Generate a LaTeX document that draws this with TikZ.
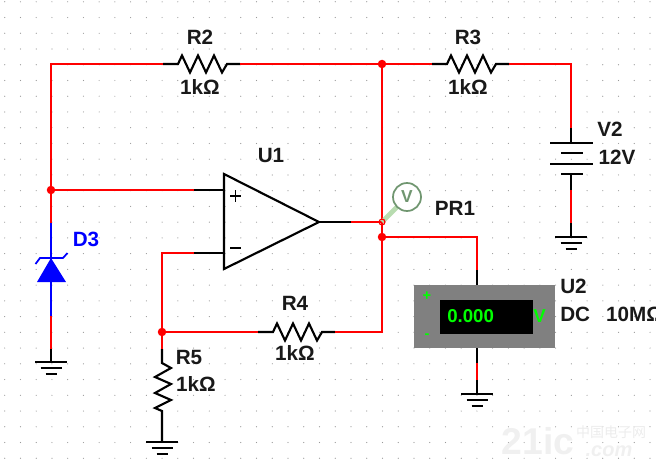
\documentclass[tikz,border=0pt]{standalone}
\usepackage{fontspec}
\setmainfont{Liberation Sans}
\newfontfamily\cjkfont{Noto Sans CJK SC}
\usepackage{xcolor}
\usetikzlibrary{positioning, calc}
\definecolor{wirered}{RGB}{255,0,0}
\definecolor{diodeblue}{RGB}{0,0,255}
\definecolor{metergray}{RGB}{128,128,128}
\definecolor{metergreen}{RGB}{0,255,0}
\definecolor{probegreen}{RGB}{112,150,112}
\definecolor{probestem}{RGB}{184,220,176}
\tikzset{
	wire/.style={draw=wirered, line width=1.6pt},
	lead/.style={draw=black, line width=1.6pt},
	gnd/.style={draw=black, line width=1.5pt},
	dot/.style={circle, fill=wirered, inner sep=0pt, minimum size=8.5pt*0.75},
	label/.style={font=\fontsize{15.5}{17}\selectfont\bfseries, text=black!90, inner sep=0pt},
	meter/.style={font=\fontsize{14}{15}\selectfont\bfseries, text=metergreen, inner sep=0pt},
}
\begin{document}
\begin{tikzpicture}[
	x=0.75pt, y=-0.75pt,
	]
	
	% --- Canvas ---
	\path[use as bounding box] (0,0) rectangle (656,467);
	\clip (0,0) rectangle (656,467);
	
	% --- Dot Grid ---
	\foreach \i in {0,...,41} {
		\foreach \j in {0,...,29} {
			\fill[gray!80] ({4.7+15.74*\i},{1.8+15.74*\j}) circle (0.45pt);
		}
	}
	
	% --- Watermark ---
	\node[font=\fontsize{28}{28}\selectfont\bfseries, text=gray!12, inner sep=0pt] (mark21) at (538,441) {21ic};
	\node[font=\fontsize{10.5}{11}\selectfont\cjkfont, text=gray!15, inner sep=0pt] (markcn) at (611,432) {中国电子网};
	\node[font=\fontsize{15}{15}\selectfont\bfseries\itshape, text=gray!12, inner sep=0pt] (markcom) at (609,451) {.com};
	
	% --- Junctions and Free Ends ---
	\coordinate (jtl) at (51,64);
	\coordinate (jtr) at (382,64);
	\coordinate (jplus) at (51,190);
	\coordinate (jout) at (382,222);
	\coordinate (jmeter) at (382,237);
	\coordinate (jfb) at (162,332);
	\coordinate (cr3) at (571,64);
	\coordinate (cm) at (477,237);
	\coordinate (cm1) at (477,270);
	\coordinate (cminus) at (162,253);
	\coordinate (cfb) at (382,332);
	
	% --- Resistors R2, R3, R4 ---
	\foreach \name/\x/\y in {R2/163/64, R3/432/64, R4/258/332} {
		\coordinate (\name a) at (\x,\y);
		\coordinate (\name b) at (\x+77,\y);
		\draw[lead, line join=miter] (\name a) -- ++(15,0) -- ++(4,-8.5) -- ++(8,17) -- ++(8,-17) -- ++(8,17) -- ++(8,-17) -- ++(8,17) -- ++(5,-8.5) -- (\name b);
	}
	
	% --- Grounds ---
	\foreach \name/\x/\y in {g3/51/362, g5/162/442, g2/571/237, gm/477/394} {
		\coordinate (\name) at (\x,\y);
		\draw[gnd] (\x-16,\y) -- (\x+16,\y);
		\draw[gnd] (\x-10.5,\y+6) -- (\x+10.5,\y+6);
		\draw[gnd] (\x-5.5,\y+11.5) -- (\x+5.5,\y+11.5);
	}
	
	% --- Op Amp U1 ---
	\coordinate (ua) at (224,174);
	\coordinate (ub) at (224,269);
	\coordinate (uo) at (319,222);
	\draw[lead, line join=miter] (ua) -- (uo) -- (ub) -- cycle;
	\draw[lead, line width=1.4pt] (230,196) -- (241,196);
	\draw[lead, line width=1.4pt] (235.5,190) -- (235.5,202);
	\draw[lead, line width=1.4pt] (230,248) -- (241,248);
	\coordinate (uplus) at (224,190);
	\coordinate (uminus) at (224,253);
	\coordinate (uplusr) at (194,190);
	\coordinate (uminusr) at (194,253);
	\coordinate (uoutr) at (351,222);
	\draw[lead] (uplusr) -- (uplus);
	\draw[lead] (uminusr) -- (uminus);
	\draw[lead] (uo) -- (uoutr);
	
	% --- Red Wires ---
	\draw[wire] (jplus) -- (jtl) -- (R2a);
	\draw[wire] (R2b) -- (R3a);
	\draw[wire] (R3b) -- (cr3) -- (571,128);
	\draw[wire] (jtr) -- (jmeter) -- (cfb) -- (R4b);
	\draw[wire] (uoutr) -- (jout);
	\draw[wire] (jplus) -- (uplusr);
	\draw[wire] (uminusr) -- (cminus) -- (jfb) -- (R4a);
	\draw[wire] (jmeter) -- (cm) -- (cm1);
	
	% --- Zener D3 ---
	\draw[wire] (jplus) -- (51,223);
	\draw[wire] (51,316) -- (51,349);
	\draw[lead] (51,349) -- (g3);
	\draw[draw=diodeblue, line width=1.6pt] (51,223) -- (51,316);
	\fill[diodeblue] (51,258) -- (66,282) -- (37,282) -- cycle;
	\draw[draw=diodeblue, line width=1.3pt] (35.5,264) -- (40,258) -- (63,258) -- (67.5,253);
	
	% --- R5 ---
	\coordinate (R5a) at (162,349);
	\coordinate (R5b) at (162,411);
	\draw[wire] (jfb) -- (R5a);
	\draw[lead, line join=miter] (R5a) -- (162,363) -- (171,368) -- (155,377) -- (171,384) -- (155,393) -- (171,400) -- (155,408) -- (R5b) -- (g5);
	
	% --- Battery V2 ---
	\coordinate (v2top) at (571,143);
	\coordinate (v2bot) at (571,174);
	\draw[lead] (571,128) -- (v2top);
	\draw[lead] (550,143) -- (593,143);
	\draw[lead] (561,153) -- (583,153);
	\draw[lead] (550,164) -- (593,164);
	\draw[lead] (561,174) -- (583,174);
	\draw[lead] (v2bot) -- (571,190);
	\draw[wire] (571,190) -- (571,223);
	\draw[lead] (571,223) -- (g2);
	
	% --- Voltmeter U2 ---
	\node[draw=none, fill=metergray, minimum width=141*0.75pt, minimum height=63*0.75pt, inner sep=0pt] (meterbox) at (484.5,316.5) {};
	\node[fill=black, minimum width=93*0.75pt, minimum height=34*0.75pt, inner sep=0pt] (display) at (486.5,317) {};
	\node[meter, anchor=west] (reading) at (447,316.5) {0.000};
	\node[meter] (unit) at (539.5,316) {V};
	\node[meter, font=\fontsize{11}{12}\selectfont\bfseries] (plus) at (427,296) {+};
	\node[meter, font=\fontsize{11}{12}\selectfont\bfseries] (minus) at (427,336) {-};
	\draw[lead] (cm1) -- (meterbox.north -| cm1);
	\draw[lead] (meterbox.south -| cm1) -- (477,363);
	\draw[wire] (477,363) -- (477,380);
	\draw[lead] (477,380) -- (gm);
	
	% --- Probe PR1 ---
	\draw[probestem, line width=3.5pt] (jout) -- (397,207);
	\node[circle, draw=probegreen, line width=1.3pt, fill=white, minimum size=28*0.75pt, inner sep=0pt, font=\fontsize{13}{13}\selectfont\bfseries, text=probegreen] (probe) at (407,197) {V};
	\draw[draw=wirered, line width=0.9pt] (jout) circle (2.2pt);
	
	% --- Junction Dots ---
	\foreach \pos/\dotname in {jtr/d1, jplus/d2, jmeter/d3, jfb/d4} {
		\node[dot] (\dotname) at (\pos) {};
	}
	
	% --- Labels ---
	\node[label] (lR2) at (200,37) {R2};
	\node[label] (vR2) at (200,87) {1kΩ};
	\node[label] (lR3) at (468,37) {R3};
	\node[label] (vR3) at (468,87) {1kΩ};
	\node[label] (lR4) at (295,303) {R4};
	\node[label] (vR4) at (295,353) {1kΩ};
	\node[label] (lR5) at (189,357) {R5};
	\node[label] (vR5) at (196,384) {1kΩ};
	\node[label] (lU1) at (271,155) {U1};
	\node[label, text=diodeblue] (lD3) at (86,239) {D3};
	\node[label] (lV2) at (610,129) {V2};
	\node[label] (vV2) at (617,157) {12V};
	\node[label] (lPR1) at (455,208) {PR1};
	\node[label, anchor=west] (lU2) at (560,286) {U2};
	\node[label, anchor=west] (vU2) at (560,314) {DC\hspace{12pt}10MΩ};
	
\end{tikzpicture}
\end{document}
